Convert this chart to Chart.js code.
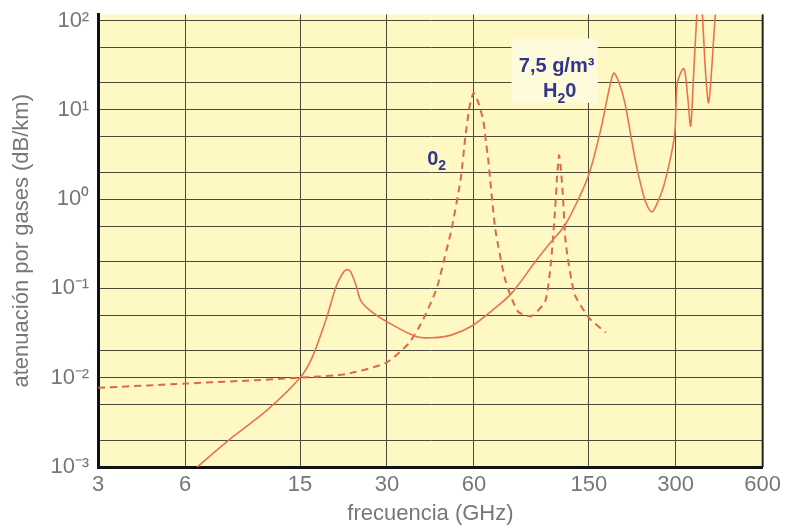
<!DOCTYPE html>
<html>
<head>
<meta charset="utf-8">
<script src="https://cdn.jsdelivr.net/npm/chart.js@4.4.1/dist/chart.umd.min.js"></script>
<style>
  html, body { margin: 0; padding: 0; background: #fff; }
  #wrap { width: 788px; height: 525px; }
</style>
</head>
<body>
<div id="wrap"><canvas id="chart" width="788" height="525"></canvas></div>
<script>
// frequency (GHz) vs attenuation (dB/km)
const h2oFreq = [6.6, 8.5, 11.5, 15, 16.5, 18.5, 20, 21, 21.7, 22.4, 23.4, 24.4, 26.5, 30.5, 37.8, 43, 50, 59, 70, 81, 98, 110, 124, 140, 151, 165, 175, 183, 191, 200, 210, 218, 226, 236, 248, 260, 275, 297, 304, 320, 330, 338, 346, 354, 362, 372, 381, 390, 400, 410, 430];
const h2oAtt = [0.001, 0.002, 0.0043, 0.01, 0.0167, 0.046, 0.105, 0.145, 0.162, 0.155, 0.11, 0.072, 0.055, 0.041, 0.029, 0.028, 0.03, 0.038, 0.058, 0.088, 0.2, 0.32, 0.51, 1.1, 2.0, 6.0, 15, 25.8, 20, 12, 5, 2.6, 1.55, 0.93, 0.72, 0.93, 1.55, 5.1, 20, 29, 14, 6.6, 25, 100, 400, 100, 25, 12, 30, 100, 600];

const o2Freq = [3, 6, 10, 15, 21.7, 29.8, 35.6, 38.6, 40.8, 44.6, 47.5, 50.2, 54, 56.1, 58, 59.9, 62.2, 64.7, 66, 67.4, 71.2, 77.3, 85.3, 94.9, 106, 111, 114.5, 116.5, 118.3, 120, 122, 125, 134, 151, 172];
const o2Att = [0.0077, 0.0086, 0.0093, 0.01, 0.011, 0.0147, 0.024, 0.036, 0.051, 0.1, 0.22, 0.46, 1.67, 5.1, 11, 15.5, 12, 7.5, 4.5, 2.6, 0.46, 0.12, 0.055, 0.049, 0.072, 0.2, 0.72, 1.8, 3.1, 2.2, 1.1, 0.31, 0.086, 0.046, 0.032];

const xTicks = [3, 6, 15, 30, 60, 150, 300, 600];
const yGrid = [0.001, 0.002, 0.005, 0.01, 0.02, 0.05, 0.1, 0.2, 0.5, 1, 2, 5, 10, 20, 50, 100];
const supers = { '-3': '⁻³', '-2': '⁻²', '-1': '⁻¹', '0': '⁰', '1': '¹', '2': '²' };

const curveColor = '#e8744c';
const labelColor = '#34348e';
const FONT = '"Liberation Sans", Arial, sans-serif';

// annotation text, anchored in data coordinates
const notes = [
  { parts: [['7,5 g/m³', 0]], f: 116, a: 31 },
  { parts: [['H', 0], ['2', 1], ['0', 0]], f: 119, a: 16 },
  { parts: [['0', 0], ['2', 1]], f: 44.6, a: 2.8 }
];
const noteBox = { f0: 81, f1: 161, a0: 12, a1: 63 };

const pts = (xs, ys) => xs.map((x, i) => ({ x: x, y: ys[i] }));

const plotBg = {
  id: 'plotBg',
  beforeDraw(chart) {
    const { ctx, chartArea: c } = chart;
    ctx.save();
    ctx.fillStyle = '#fdf8c4';
    ctx.fillRect(c.left, c.top, c.right - c.left, c.bottom - c.top);
    ctx.restore();
  },
  beforeDatasetsDraw(chart) {
    const { ctx, scales: { x, y }, chartArea: c } = chart;
    ctx.save();
    // light patch behind the H2O label
    const l = x.getPixelForValue(noteBox.f0), r = x.getPixelForValue(noteBox.f1);
    const t = y.getPixelForValue(noteBox.a1), b = y.getPixelForValue(noteBox.a0);
    ctx.fillStyle = '#fefbdd';
    ctx.fillRect(l, t, r - l, b - t);
    // right frame line
    ctx.strokeStyle = '#222';
    ctx.lineWidth = 2;
    ctx.beginPath();
    ctx.moveTo(c.right, c.top);
    ctx.lineTo(c.right, c.bottom);
    ctx.stroke();
    ctx.restore();
  },
  afterDatasetsDraw(chart) {
    const { ctx, scales: { x, y } } = chart;
    ctx.save();
    ctx.fillStyle = labelColor;
    ctx.textBaseline = 'middle';
    notes.forEach(n => {
      const big = 'bold 20px ' + FONT, small = 'bold 14px ' + FONT;
      let w = 0;
      n.parts.forEach(p => { ctx.font = p[1] ? small : big; w += ctx.measureText(p[0]).width; });
      let px = x.getPixelForValue(n.f) - w / 2;
      const py = y.getPixelForValue(n.a);
      n.parts.forEach(p => {
        ctx.font = p[1] ? small : big;
        ctx.fillText(p[0], px, p[1] ? py + 7 : py);
        px += ctx.measureText(p[0]).width;
      });
    });
    ctx.restore();
  }
};

new Chart(document.getElementById('chart'), {
  type: 'line',
  data: {
    datasets: [
      {
        label: 'H2O',
        data: pts(h2oFreq, h2oAtt),
        borderColor: curveColor,
        borderWidth: 1.6,
        pointRadius: 0,
        tension: 0.3,
        fill: false
      },
      {
        label: 'O2',
        data: pts(o2Freq, o2Att),
        borderColor: '#dc6a48',
        borderWidth: 2,
        borderDash: [7, 5],
        pointRadius: 0,
        tension: 0.2,
        fill: false
      }
    ]
  },
  options: {
    responsive: false,
    animation: false,
    maintainAspectRatio: false,
    layout: { padding: { top: 0, right: 12, left: 9, bottom: 0 } },
    plugins: { legend: { display: false }, tooltip: { enabled: false } },
    scales: {
      x: {
        type: 'logarithmic',
        min: 3,
        max: 600,
        afterBuildTicks: (axis) => { axis.ticks = xTicks.map(v => ({ value: v })); },
        grid: { color: '#4b4b3c', lineWidth: 1, drawTicks: false },
        border: { color: '#111', width: 3 },
        ticks: {
          autoSkip: false, maxRotation: 0, padding: 7,
          color: '#777', font: { family: FONT, size: 22, lineHeight: 1 },
          callback: (v) => String(v)
        },
        title: {
          display: true, text: 'frecuencia (GHz)', color: '#777',
          font: { family: FONT, size: 22, lineHeight: 1 }, padding: { top: 0, bottom: 0 }
        }
      },
      y: {
        type: 'logarithmic',
        min: 0.001,
        max: 117,
        afterBuildTicks: (axis) => { axis.ticks = yGrid.map(v => ({ value: v })); },
        grid: { color: '#4b4b3c', lineWidth: 1, drawTicks: false },
        border: { color: '#111', width: 3 },
        ticks: {
          autoSkip: false, padding: 9,
          color: '#777', font: { family: FONT, size: 22, lineHeight: 0.5 },
          callback: (v) => {
            const e = Math.round(Math.log10(v));
            return Math.abs(Math.log10(v) - e) < 1e-6 ? '10' + supers[String(e)] : '';
          }
        },
        title: {
          display: true, text: 'atenuación por gases (dB/km)', color: '#777',
          font: { family: FONT, size: 22 }, padding: { top: 0, bottom: 6 }
        }
      }
    }
  },
  plugins: [plotBg]
});
</script>
</body>
</html>
